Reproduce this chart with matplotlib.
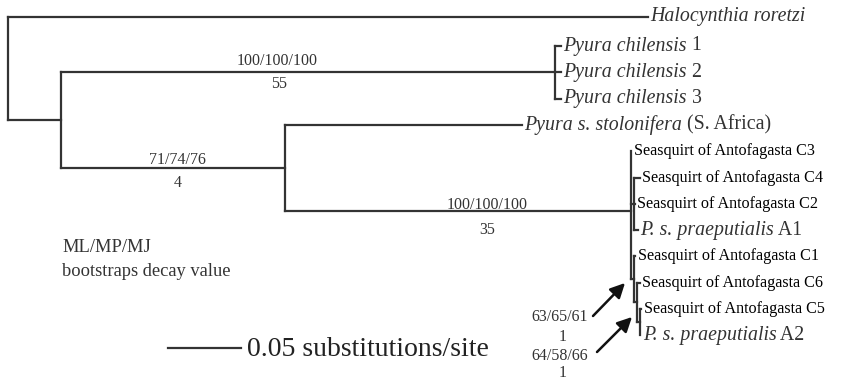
import matplotlib
matplotlib.use("Agg")
import matplotlib.pyplot as plt

# ---------------- tree data (branch lengths in substitutions/site) ----------------
node_names = ["root", "halo", "inner", "chil", "ch1", "ch2", "ch3", "Bnode", "stol",
              "anto", "C3", "N1", "C4", "C2", "A1", "N2", "C1", "N3", "C6", "N4", "C5", "A2"]
node_parent = [None, "root", "root", "inner", "chil", "chil", "chil", "inner", "Bnode",
               "Bnode", "anto", "anto", "N1", "N1", "N1", "anto", "N2", "N2", "N3", "N3", "N4", "N4"]
branch_len = [0.0, 0.4384, 0.0363, 0.3384, 0.0041, 0.0041, 0.0041, 0.1534, 0.1623,
              0.2370, 0.0003, 0.0020, 0.0040, 0.0007, 0.0027, 0.0020, 0.0010, 0.0020,
              0.0020, 0.0020, 0.0010, 0.0003]

tip_italic = {"halo": "Halocynthia roretzi", "ch1": "Pyura chilensis", "ch2": "Pyura chilensis",
              "ch3": "Pyura chilensis", "stol": "Pyura s. stolonifera", "A1": "P. s. praeputialis",
              "A2": "P. s. praeputialis"}
tip_roman = {"halo": "", "ch1": " 1", "ch2": " 2", "ch3": " 3", "stol": " (S. Africa)",
             "A1": " A1", "A2": " A2"}
tip_seasquirt = {"C3": "Seasquirt of Antofagasta C3", "C4": "Seasquirt of Antofagasta C4",
                 "C2": "Seasquirt of Antofagasta C2", "C1": "Seasquirt of Antofagasta C1",
                 "C6": "Seasquirt of Antofagasta C6", "C5": "Seasquirt of Antofagasta C5"}

support_labels = ["100/100/100", "55", "71/74/76", "4", "100/100/100", "35",
                  "63/65/61", "1", "64/58/66", "1"]
scale_len = 0.05
scale_text = "0.05 substitutions/site"
legend_lines = ["ML/MP/MJ", "bootstraps decay value"]

# ---------------- layout ----------------
PX = 1460.0          # pixels per substitution unit
X0 = 8.0             # root position in pixels
def xd(px):
    return (px - X0) / PX

fig = plt.figure(figsize=(8.54, 3.82), dpi=100)
ax = fig.add_axes([0, 0, 1, 1])
ax.set_xlim(xd(0), xd(854))
ax.set_ylim(382, 0)
ax.axis("off")

line_col = "#333333"
text_col = "#333333"
serif = "Liberation Serif"

children = {n: [] for n in node_names}
for n, p in zip(node_names, node_parent):
    if p is not None:
        children[p].append(n)

# x positions
xpos = {}
for n, p, bl in zip(node_names, node_parent, branch_len):
    xpos[n] = bl if p is None else xpos[p] + bl

# tip y positions (rows)
tips = [n for n in node_names if not children[n]]
ypos = {}
for i, t in enumerate(tips):
    ypos[t] = 17.0 if i == 0 else 46.0 + 26.3 * (i - 1)

def get_y(n):
    if n in ypos:
        return ypos[n]
    ys = [get_y(c) for c in children[n]]
    ypos[n] = sum(ys) / len(ys)
    return ypos[n]
get_y("root")

lw = 1.6
for n, p in zip(node_names, node_parent):
    if p is not None:
        ax.plot([xpos[p], xpos[n]], [ypos[n], ypos[n]], color=line_col, lw=lw,
                solid_capstyle="projecting")
    if children[n]:
        ys = [ypos[c] for c in children[n]]
        ax.plot([xpos[n], xpos[n]], [min(ys), max(ys)], color=line_col, lw=lw,
                solid_capstyle="projecting")

# tip labels
gap = 2.5 / PX
for t in tips:
    x = xpos[t] + gap
    y = ypos[t]
    if t in tip_seasquirt:
        ax.text(x, y, tip_seasquirt[t], fontsize=11.6, family=serif, color="black",
                va="center", ha="left")
    else:
        it = ax.text(x, y, tip_italic[t], fontsize=14.3, family=serif, style="italic",
                     color=text_col, va="center", ha="left")
        if tip_roman[t]:
            ax.annotate(tip_roman[t], xy=(1, 0), xycoords=it, fontsize=14.3, family=serif,
                        color=text_col, va="bottom", ha="left")

# support values
sup_pos = [(277, 61), (279, 84), (177, 160), (178, 183), (487, 205), (487, 230),
           (560, 317), (563, 337), (560, 356), (563, 373)]
for s, (px, py) in zip(support_labels, sup_pos):
    ax.text(xd(px), py, s, fontsize=11.5, family=serif, color=text_col,
            va="center", ha="center")

# arrows
arrows = [((593, 316), (625, 283)), ((597, 352), (632, 317))]
for (tx, ty), (hx, hy) in arrows:
    ax.annotate("", xy=(xd(hx), hy), xytext=(xd(tx), ty),
                arrowprops=dict(arrowstyle="-|>", lw=1.8, color="#111111",
                                mutation_scale=22, shrinkA=0, shrinkB=0))

# legend text
ax.text(xd(62), 248, legend_lines[0], fontsize=13.3, family=serif, color=text_col,
        va="center", ha="left")
ax.text(xd(62), 271, legend_lines[1], fontsize=13.3, family=serif, color=text_col,
        va="center", ha="left")

# scale bar
sx = xd(168)
ax.plot([sx, sx + scale_len], [348, 348], color=line_col, lw=lw)
ax.text(xd(247), 349, scale_text, fontsize=20, family=serif, color="#222222",
        va="center", ha="left")

fig.savefig("out.png", dpi=100)
